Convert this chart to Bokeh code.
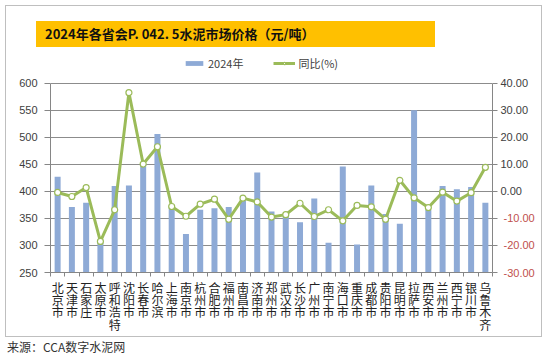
from bokeh.plotting import figure
from bokeh.models import (Range1d, LinearAxis, FixedTicker, ColumnDataSource, Legend, LegendItem, Div)
from bokeh.layouts import column
from bokeh.embed import file_html
from bokeh.resources import INLINE

cities = ["北京市", "天津市", "石家庄", "太原市", "呼和浩特", "沈阳市", "长春市", "哈尔滨",
          "上海市", "南京市", "杭州市", "合肥市", "福州市", "南昌市", "济南市", "郑州市",
          "武汉市", "长沙市", "广州市", "南宁市", "海口市", "重庆市", "成都市", "贵阳市",
          "昆明市", "拉萨市", "西安市", "兰州市", "西宁市", "银川市", "乌鲁木齐"]
price_2024 = [427, 371, 379, 305, 410, 411, 449, 506,
              372, 321, 366, 369, 371, 388, 435, 363,
              356, 343, 387, 305, 446, 302, 411, 358,
              340, 550, 366, 410, 404, 408, 379]
yoy_pct = [-0.4, -1.9, 1.4, -18.5, -6.8, 36.5, 10.1, 16.5,
           -5.6, -9.2, -4.7, -2.9, -10.3, -2.5, -3.9, -9.5,
           -8.6, -4.4, -9.3, -6.8, -10.9, -5.2, -5.7, -10.3,
           4.1, -2.4, -6.0, -0.3, -3.6, -0.5, 8.9]
left_ticks = [250, 300, 350, 400, 450, 500, 550, 600]
right_ticks = [-30, -20, -10, 0, 10, 20, 30, 40]
title_text = "2024年各省会P. 042. 5水泥市场价格（元/吨）"
source_text = "来源：CCA数字水泥网"
legend_labels = ["2024年", "同比(%)"]

BAR = "#8EAAD6"
GREEN = "#9BBB59"
GRID = "#8C8C8C"
AX = "#868686"
TXT = "#404040"
NEG = "#C0504D"
CJK = "Noto Sans CJK SC"
LAT = "Liberation Sans"

n = len(cities)
idx = list(range(n))

# layout (px)
FIG_W, FIG_H = 535, 289
BORDER_T, BORDER_B = 8, 64
PLOT_H = 189.3                      # height of the 250..600 band
FRAME_H = FIG_H - BORDER_T - BORDER_B
extra = (FRAME_H - PLOT_H) / PLOT_H  # legend band above the value area

lo, hi = left_ticks[0], left_ticks[-1]
rlo, rhi = right_ticks[0], right_ticks[-1]

p = figure(width=FIG_W, height=FIG_H, output_backend="svg", toolbar_location=None,
           x_range=Range1d(-0.5, n - 0.5),
           y_range=Range1d(lo, hi + (hi - lo) * extra),
           min_border_left=44, min_border_right=49,
           min_border_top=BORDER_T, min_border_bottom=BORDER_B)
p.extra_y_ranges = {"pct": Range1d(rlo, rhi + (rhi - rlo) * extra)}
p.outline_line_color = None
p.background_fill_color = "white"
p.border_fill_color = "white"

src = ColumnDataSource(dict(x=idx, price=price_2024, yoy=yoy_pct))
bars = p.vbar(x="x", top="price", bottom=lo, width=0.42, source=src,
              fill_color=BAR, line_color=None)
ln = p.line(x="x", y="yoy", source=src, y_range_name="pct", line_color=GREEN, line_width=3)
pts = p.scatter(x="x", y="yoy", source=src, y_range_name="pct", marker="circle", size=6,
                fill_color="white", line_color=GREEN, line_width=1.2)

# grid
p.xgrid.visible = False
p.ygrid.ticker = FixedTicker(ticks=left_ticks)
p.ygrid.grid_line_color = GRID
p.ygrid.grid_line_width = 1

# x axis: labels at bar centres, tick marks between categories
xa = p.xaxis[0]
xa.ticker = FixedTicker(ticks=idx, minor_ticks=[i - 0.5 for i in range(n + 1)])
xa.major_label_overrides = {i: "\n".join(c) for i, c in enumerate(cities)}
xa.major_tick_line_color = None
xa.major_tick_out = 0
xa.major_tick_in = 0
xa.minor_tick_line_color = AX
xa.minor_tick_out = 4
xa.minor_tick_in = 0
xa.axis_line_color = AX
xa.major_label_standoff = 2
xa.major_label_text_font = CJK
xa.major_label_text_font_size = "12px"
xa.major_label_text_color = "#222222"
xa.major_label_text_line_height = 0.73

# left axis
ya = p.yaxis[0]
ya.ticker = FixedTicker(ticks=left_ticks)
ya.bounds = (lo, hi)
ya.axis_line_color = AX
ya.major_tick_line_color = AX
ya.major_tick_out = 6
ya.major_tick_in = 0
ya.minor_tick_line_color = None
ya.major_label_standoff = 7
ya.major_label_text_font = LAT
ya.major_label_text_font_size = "11px"
ya.major_label_text_color = TXT

# right axis: non-negative labels (dark)
neg_ticks = [t for t in right_ticks if t < 0]
ra = LinearAxis(y_range_name="pct", ticker=FixedTicker(ticks=right_ticks), bounds=(rlo, rhi))
ra.major_label_overrides = {t: (f"{t:.2f}" if t >= 0 else "") for t in right_ticks}
ra.axis_line_color = AX
ra.major_tick_line_color = AX
ra.major_tick_out = 5
ra.major_tick_in = 0
ra.minor_tick_line_color = None
ra.major_label_standoff = 3
ra.major_label_text_font = LAT
ra.major_label_text_font_size = "11px"
ra.major_label_text_color = TXT
p.add_layout(ra, "right")

# right axis: negative labels (red), pulled back over the first axis' label column
rn = LinearAxis(y_range_name="pct", ticker=FixedTicker(ticks=neg_ticks))
rn.major_label_overrides = {t: f"{t:.2f}" for t in neg_ticks}
rn.axis_line_color = None
rn.major_tick_line_color = None
rn.major_tick_out = 0
rn.major_tick_in = 0
rn.minor_tick_line_color = None
rn.major_label_standoff = -28
rn.major_label_text_font = LAT
rn.major_label_text_font_size = "11px"
rn.major_label_text_color = NEG
p.add_layout(rn, "right")

# legend in the band above the value area
leg = Legend(items=[LegendItem(label=legend_labels[0], renderers=[bars]),
                    LegendItem(label=legend_labels[1], renderers=[ln, pts])],
             orientation="horizontal", location=(133, round(FRAME_H - 16)),
             glyph_width=22, glyph_height=6, label_height=12, label_standoff=3,
             spacing=30, padding=0, margin=0,
             label_text_font=CJK, label_text_font_size="11px", label_text_color=TXT,
             border_line_color=None, background_fill_alpha=0)
p.add_layout(leg, "center")

title_div = Div(text=title_text, width=399, height=26, margin=(15, 0, 0, 30),
                styles={"background-color": "#FFC000", "font-weight": "bold",
                        "font-size": "13px", "font-family": CJK, "color": "#111111",
                        "line-height": "26px", "padding-left": "9px",
                        "box-sizing": "border-box", "white-space": "nowrap"})
box = column(title_div, p, margin=(5, 0, 0, 5),
             styles={"border": "1px solid #BFBFBF", "background-color": "white"})
source_div = Div(text=source_text, height=18, margin=(1, 0, 0, 7),
                 styles={"font-size": "12px", "font-family": CJK, "color": "#333333",
                         "line-height": "18px", "white-space": "nowrap"})
root = column(box, source_div)

open("out.html", "w").write(file_html(root, INLINE))
